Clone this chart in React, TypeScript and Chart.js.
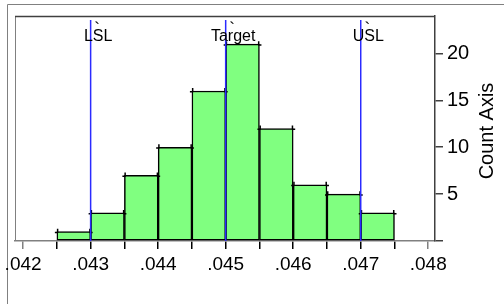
import React, { useEffect, useRef } from "react";
import { Chart, registerables } from "chart.js";

Chart.register(...registerables);

// ---- data ----
const binCenters = [0.04275, 0.04325, 0.04375, 0.04425, 0.04475, 0.04525, 0.04575, 0.04625, 0.04675, 0.04725];
const counts = [1, 3, 7, 10, 16, 21, 12, 6, 5, 3];
const xTickValues = [0.042, 0.0425, 0.043, 0.0435, 0.044, 0.0445, 0.045, 0.0455, 0.046, 0.0465, 0.047, 0.0475, 0.048];
const yTickValues = [0, 5, 10, 15, 20];
const specNames = ["LSL", "Target", "USL"];
const specValues = [0.043, 0.045, 0.047];
const yAxisTitle = "Count Axis";

const FONT = "'Liberation Sans', Arial, Helvetica, sans-serif";

const decoPlugin = {
  id: "deco",
  beforeDraw(chart: any) {
    const ctx = chart.ctx;
    const a = chart.chartArea;
    ctx.save();
    ctx.lineWidth = 1;
    ctx.strokeStyle = "#808080";
    ctx.beginPath();
    ctx.moveTo(7.5, 304);
    ctx.lineTo(7.5, 4.5);
    ctx.lineTo(504, 4.5);
    ctx.stroke();
    ctx.beginPath();
    ctx.moveTo(a.left + 0.5, a.bottom);
    ctx.lineTo(a.left + 0.5, a.top);
    ctx.stroke();
    ctx.strokeStyle = "#404040";
    ctx.lineWidth = 1.5;
    ctx.beginPath();
    ctx.moveTo(a.left, a.top + 0.5);
    ctx.lineTo(a.right, a.top + 0.5);
    ctx.stroke();
    ctx.restore();
  },
  afterDatasetsDraw(chart: any) {
    const ctx = chart.ctx;
    const a = chart.chartArea;
    const xs = chart.scales.x;
    ctx.save();
    // bar corner caps
    ctx.strokeStyle = "#000";
    ctx.lineWidth = 1.5;
    const meta = chart.getDatasetMeta(0);
    meta.data.forEach((el: any) => {
      const p = el.getProps(["x", "y", "width"], true);
      const l = p.x - p.width / 2;
      const r = p.x + p.width / 2;
      ctx.beginPath();
      ctx.moveTo(l - 2, p.y + 0.75);
      ctx.lineTo(l + 1, p.y + 0.75);
      ctx.moveTo(l + 0.75, p.y - 3);
      ctx.lineTo(l + 0.75, p.y + 1);
      ctx.moveTo(r - 1, p.y + 0.75);
      ctx.lineTo(r + 2, p.y + 0.75);
      ctx.moveTo(r - 0.75, p.y - 3);
      ctx.lineTo(r - 0.75, p.y + 1);
      ctx.stroke();
    });
    // spec lines
    specValues.forEach((v, i) => {
      const px = xs.getPixelForValue(v);
      ctx.strokeStyle = "#2a2aff";
      ctx.lineWidth = 1.5;
      ctx.beginPath();
      ctx.moveTo(px, 20);
      ctx.lineTo(px, a.bottom);
      ctx.stroke();
      ctx.fillStyle = "#000";
      ctx.textAlign = "center";
      ctx.textBaseline = "alphabetic";
      ctx.font = `16px ${FONT}`;
      ctx.fillText(specNames[i], px + 7.5, 41);
      ctx.font = `17px ${FONT}`;
      ctx.fillText("`", px + 6.5, 34);
    });
    // right axis title
    ctx.translate(487, 131);
    ctx.rotate(-Math.PI / 2);
    ctx.fillStyle = "#000";
    ctx.textAlign = "center";
    ctx.textBaseline = "middle";
    ctx.font = `20px ${FONT}`;
    ctx.fillText(yAxisTitle, 0, 0);
    ctx.restore();
  },
};

export default function App() {
  const ref = useRef<HTMLCanvasElement | null>(null);

  useEffect(() => {
    if (!ref.current) return;
    const chart = new Chart(ref.current, {
      type: "bar",
      data: {
        datasets: [
          {
            data: binCenters.map((x, i) => ({ x, y: counts[i] })),
            backgroundColor: "#80ff80",
            borderColor: "#000000",
            borderWidth: 1.5,
            borderSkipped: false,
            barPercentage: 1,
            categoryPercentage: 1,
          } as any,
        ],
      },
      options: {
        animation: false,
        responsive: false,
        events: [],
        layout: { padding: { left: 15, top: 12, right: 0, bottom: 0 } },
        plugins: {
          legend: { display: false },
          tooltip: { enabled: false },
          title: { display: false },
        },
        scales: {
          x: {
            type: "linear",
            offset: false,
            min: 0.04188,
            max: 0.0481,
            afterBuildTicks: (s: any) => {
              s.ticks = xTickValues.map((v) => ({ value: v }));
            },
            afterFit: (s: any) => {
              s.height = 63;
            },
            ticks: {
              autoSkip: false,
              maxRotation: 0,
              minRotation: 0,
              padding: 4,
              color: "#000",
              font: { family: FONT, size: 19 },
              callback: (v: any) => {
                const n = Math.round(Number(v) * 10000);
                if (n % 10 !== 0) return "";
                return Number(v).toFixed(3).replace(/^0/, "");
              },
            },
            grid: {
              offset: false,
              drawOnChartArea: false,
              drawTicks: true,
              tickLength: 8,
              lineWidth: 1.5,
              color: (c: any) => {
                const v = c.tick ? c.tick.value : 0;
                return v > 0.04249 && v < 0.04751 ? "#000000" : "#808080";
              },
            },
            border: { display: true, color: "#808080", width: 1.5 },
          },
          y: {
            type: "linear",
            position: "right",
            min: 0,
            max: 24,
            afterBuildTicks: (s: any) => {
              s.ticks = yTickValues.map((v) => ({ value: v }));
            },
            afterFit: (s: any) => {
              s.width = 69;
            },
            ticks: {
              padding: 4,
              color: "#000",
              font: { family: FONT, size: 20 },
              callback: (v: any) => (Number(v) === 0 ? "" : String(v)),
            },
            grid: {
              drawOnChartArea: false,
              drawTicks: true,
              tickLength: 8,
              lineWidth: 1.5,
              color: "#404040",
            },
            border: { display: true, color: "#404040", width: 1.5 },
          },
        },
      },
      plugins: [decoPlugin],
    } as any);
    return () => chart.destroy();
  }, []);

  return (
    <div style={{ position: "absolute", left: 0, top: 0, width: 504, height: 304, background: "#fff" }}>
      <canvas ref={ref} width={504} height={304} style={{ display: "block" }} />
    </div>
  );
}
